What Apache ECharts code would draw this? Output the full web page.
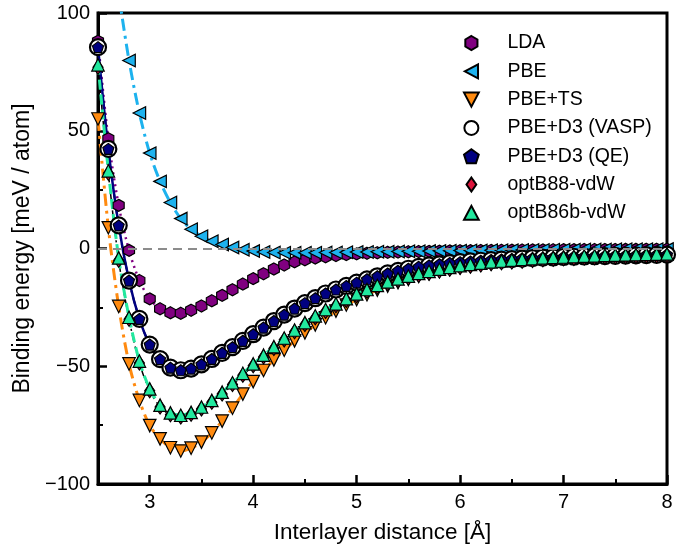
<!DOCTYPE html>
<html>
<head>
<meta charset="utf-8">
<script src="https://cdn.jsdelivr.net/npm/echarts@6/dist/echarts.min.js"></script>
<style>html,body{margin:0;padding:0;background:#fff;}#c{width:677px;height:550px;}</style>
</head>
<body>
<div id="c"></div>
<script>
const xs = [2.5,2.6,2.7,2.8,2.9,3.0,3.1,3.2,3.3,3.4,3.5,3.6,3.7,3.8,3.9,4.0,4.1,4.2,4.3,4.4,4.5,4.6,4.7,4.8,4.9,5.0,5.1,5.2,5.3,5.4,5.5,5.6,5.7,5.8,5.9,6.0,6.1,6.2,6.3,6.4,6.5,6.6,6.7,6.8,6.9,7.0,7.1,7.2,7.3,7.4,7.5,7.6,7.7,7.8,7.9,8.0];
const lda = [88,46.6,18.3,-0.8,-13.6,-21.4,-25.6,-27.3,-27.5,-26.2,-24.4,-22.2,-19.9,-17.5,-15.1,-12.8,-10.7,-8.7,-7.0,-5.7,-4.8,-4.1,-3.5,-3.0,-2.6,-2.3,-2.0,-1.8,-1.6,-1.5,-1.4,-1.3,-1.2,-1.1,-1.0,-0.95,-0.9,-0.85,-0.8,-0.75,-0.7,-0.65,-0.6,-0.6,-0.55,-0.5,-0.5,-0.45,-0.45,-0.4,-0.4,-0.35,-0.35,-0.3,-0.3,-0.3];
const pbe = [null,null,108,79.8,57.5,40.5,28.5,19.5,12.7,8.2,5.2,3.1,1.7,0.4,-0.5,-1.1,-1.5,-1.7,-1.8,-1.8,-1.8,-1.8,-1.7,-1.7,-1.6,-1.5,-1.5,-1.4,-1.35,-1.3,-1.2,-1.15,-1.1,-1.0,-0.95,-0.9,-0.85,-0.8,-0.77,-0.73,-0.7,-0.65,-0.62,-0.58,-0.55,-0.5,-0.48,-0.45,-0.42,-0.4,-0.35,-0.33,-0.3,-0.28,-0.26,-0.25];
const pbeTS = [55,8.8,-24.6,-49,-64.5,-75.2,-80.8,-84.6,-86,-84.8,-82.2,-78.3,-73.3,-67.8,-61.8,-56.5,-51.8,-47.3,-43.2,-39.2,-35.8,-32.4,-29.4,-26.6,-24.0,-21.7,-19.6,-17.7,-16.0,-14.5,-13.1,-11.9,-10.8,-9.8,-8.9,-8.1,-7.5,-6.9,-6.4,-6.0,-5.6,-5.2,-4.9,-4.6,-4.3,-4.1,-3.9,-3.7,-3.5,-3.4,-3.2,-3.1,-3.0,-2.9,-2.8,-2.7];
const d3vasp = [85.5,42.3,9.8,-13.6,-29.9,-40.8,-47.0,-50.6,-51.7,-51.0,-49.2,-46.9,-44.3,-41.9,-39.2,-36.4,-33.6,-30.8,-28.1,-25.5,-23.2,-21.1,-19.1,-17.4,-15.9,-14.5,-13.1,-11.8,-10.6,-9.5,-8.6,-7.8,-7.2,-6.7,-6.2,-5.8,-5.5,-5.2,-4.9,-4.7,-4.5,-4.3,-4.1,-3.9,-3.8,-3.6,-3.5,-3.4,-3.3,-3.2,-3.1,-3.0,-2.9,-2.8,-2.7,-2.6];
const d3qe = [85.5,42.3,9.8,-13.6,-29.9,-40.8,-47.0,-50.6,-51.7,-51.0,-49.2,-46.9,-44.3,-41.9,-39.2,-36.4,-33.6,-30.8,-28.1,-25.5,-23.2,-21.1,-19.1,-17.4,-15.9,-14.5,-13.1,-11.8,-10.6,-9.5,-8.6,-7.8,-7.2,-6.7,-6.2,-5.8,-5.5,-5.2,-4.9,-4.7,-4.5,-4.3,-4.1,-3.9,-3.8,-3.6,-3.5,-3.4,-3.3,-3.2,-3.1,-3.0,-2.9,-2.8,-2.7,-2.6];
const optB88 = [77,32,-5,-30,-48.6,-60.4,-67.3,-70.6,-71.6,-70.4,-68.1,-65.3,-61.8,-57.8,-53.8,-49.8,-46.1,-42.5,-38.8,-35.4,-32.3,-29.4,-26.7,-24.3,-22.1,-20.1,-18.2,-16.5,-15.0,-13.7,-12.5,-11.4,-10.5,-9.6,-8.8,-8.1,-7.5,-7.0,-6.5,-6.1,-5.7,-5.4,-5.1,-4.8,-4.6,-4.4,-4.2,-4.0,-3.9,-3.7,-3.6,-3.5,-3.4,-3.3,-3.2,-3.1];
const optB86b = [78,33,-4,-29.2,-47.8,-59.6,-66.5,-69.8,-70.8,-69.6,-67.3,-64.5,-61.0,-57.0,-53.0,-49.0,-45.3,-41.7,-38.0,-34.6,-31.5,-28.6,-25.9,-23.5,-21.3,-19.3,-17.4,-15.7,-14.2,-12.9,-11.7,-10.6,-9.7,-8.8,-8.0,-7.3,-6.7,-6.2,-5.7,-5.3,-4.9,-4.6,-4.3,-4.0,-3.8,-3.6,-3.4,-3.2,-3.1,-2.9,-2.8,-2.7,-2.6,-2.5,-2.4,-2.3];
const xMajorTicks = [3,4,5,6,7,8];
const xMinorTicks = [3.5,4.5,5.5,6.5,7.5];
const seriesNames = ['LDA','PBE','PBE+TS','PBE+D3 (VASP)','PBE+D3 (QE)','optB88-vdW','optB86b-vdW'];

const HEX = 'path://M0,-1 L0.866,-0.5 L0.866,0.5 L0,1 L-0.866,0.5 L-0.866,-0.5 Z';
const PENT = 'path://M0,-1 L0.951,-0.309 L0.588,0.809 L-0.588,0.809 L-0.951,-0.309 Z';
const LTRI = 'path://M-1,0 L0.8,-0.95 L0.8,0.95 Z';
const DTRI = 'path://M-0.95,-0.8 L0.95,-0.8 L0,1 Z';
const UTRI = 'path://M-0.95,0.8 L0.95,0.8 L0,-1 Z';
const DIAM = 'path://M0,-1 L0.7,0 L0,1 L-0.7,0 Z';

function pairs(arr){ const out=[]; xs.forEach((x,i)=>{ if(arr[i]!==null) out.push([x,arr[i]]); }); return out; }
const FONT = 'Liberation Sans, Arial, Helvetica, sans-serif';

function mk(name, arr, symbol, size, color, lineColor, lineType, lineWidth, extra){
  return Object.assign({
    name: name, type: 'line', data: pairs(arr), smooth: 0.3,
    symbol: symbol, symbolSize: size, showAllSymbol: true,
    itemStyle: {color: color, borderColor: '#000', borderWidth: 1.2},
    lineStyle: {color: lineColor, type: lineType, width: lineWidth},
    emphasis: {disabled: true}, animation: false
  }, extra || {});
}

const chart = echarts.init(document.getElementById('c'), null, {renderer: 'canvas'});
chart.setOption({
  animation: false,
  backgroundColor: '#fff',
  grid: {left: 98, right: 10, top: 13, bottom: 66, show: true, borderColor: '#000', borderWidth: 3, backgroundColor: 'transparent'},
  legend: {
    orient: 'vertical', left: 458, top: 28, itemWidth: 62, itemHeight: 14, itemGap: 8.3,
    textStyle: {fontFamily: FONT, fontSize: 19.5, color: '#000', lineHeight: 20},
    data: [
      {name: seriesNames[0], icon: HEX},
      {name: seriesNames[1], icon: LTRI},
      {name: seriesNames[2], icon: DTRI},
      {name: seriesNames[3], icon: 'circle'},
      {name: seriesNames[4], icon: PENT},
      {name: seriesNames[5], icon: DIAM},
      {name: seriesNames[6], icon: UTRI}
    ]
  },
  xAxis: [{
    type: 'value', min: 2.5, max: 8, position: 'bottom',
    axisLine: {show: true, onZero: false, lineStyle: {color: '#000', width: 3}},
    axisTick: {show: true, inside: true, length: 9, customValues: xMajorTicks, lineStyle: {color: '#000', width: 2.5}},
    axisLabel: {customValues: xMajorTicks, fontFamily: FONT, fontSize: 20, color: '#000', margin: 8},
    splitLine: {show: false},
    name: 'Interlayer distance [Å]', nameLocation: 'middle', nameGap: 37,
    nameTextStyle: {fontFamily: FONT, fontSize: 22.5, color: '#000'}
  },{
    type: 'value', min: 2.5, max: 8, position: 'bottom',
    axisLine: {show: false, onZero: false},
    axisTick: {show: true, inside: true, length: 5, customValues: xMinorTicks, lineStyle: {color: '#000', width: 2}},
    axisLabel: {show: false}, splitLine: {show: false}
  }],
  yAxis: {
    type: 'value', min: -100, max: 100, interval: 50,
    axisLine: {show: true, onZero: false, lineStyle: {color: '#000', width: 3}},
    axisTick: {show: true, inside: true, length: 9, lineStyle: {color: '#000', width: 2.5}},
    minorTick: {show: true, splitNumber: 2, length: 5, lineStyle: {color: '#000', width: 2}},
    axisLabel: {fontFamily: FONT, fontSize: 20, color: '#000', margin: 8, formatter: v => String(v).replace('-', '\u2212')},
    splitLine: {show: false},
    name: 'Binding energy [meV / atom]', nameLocation: 'middle', nameGap: 64, nameRotate: 90,
    nameTextStyle: {fontFamily: FONT, fontSize: 23, color: '#000'}
  },
  series: [
    mk(seriesNames[0], lda, HEX, [11,12], '#800080', '#800080', [2,4], 2.5, {
      markLine: {silent: true, symbol: 'none', label: {show: false},
        lineStyle: {color: '#8c8c8c', type: [9,6], width: 2}, data: [{yAxis: 0}], animation: false}
    }),
    mk(seriesNames[1], pbe, LTRI, 12.5, '#1DB2EE', '#1DB2EE', [12,5,3,5], 3),
    mk(seriesNames[2], pbeTS, DTRI, 12.5, '#FF8A0F', '#FF8A0F', [12,5,3,5], 3),
    mk(seriesNames[3], d3vasp, 'circle', 16, '#ffffff', '#000', [8,4,2,4], 2, {itemStyle: {color: '#fff', borderColor: '#000', borderWidth: 2.2}}),
    mk(seriesNames[4], d3qe, PENT, 11, '#000080', '#000080', 'solid', 2.5),
    mk(seriesNames[5], optB88, DIAM, [10,14], '#DC143C', '#000', [8,4,2,4], 1.5),
    mk(seriesNames[6], optB86b, UTRI, 12.5, '#22E89E', '#22E89E', [10,5], 3)
  ]
});
</script>
</body>
</html>
